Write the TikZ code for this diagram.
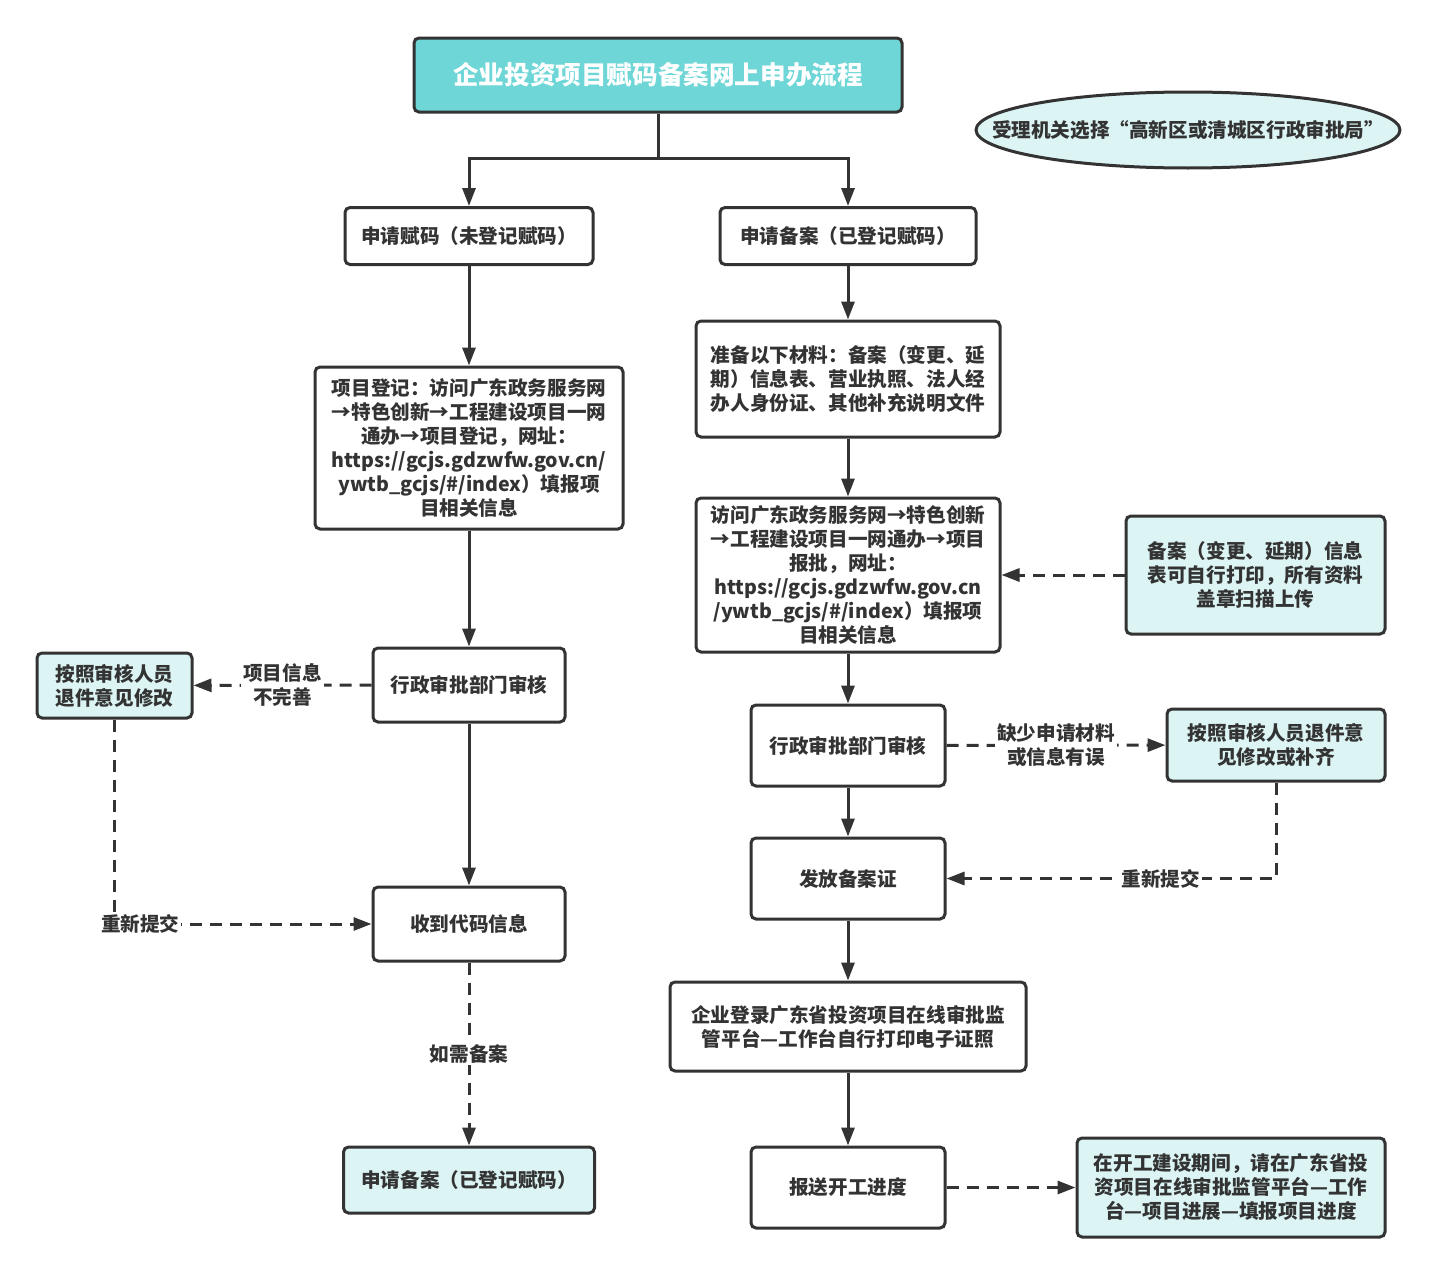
\documentclass[tikz,border=0pt]{standalone}
\usepackage{fontspec}
\setmainfont{Noto Sans CJK SC}
\usetikzlibrary{positioning,arrows.meta,shapes.geometric}
\definecolor{ink}{HTML}{333333}
\definecolor{titlecyan}{HTML}{6ED6D6}
\definecolor{lightcyan}{HTML}{DCF4F4}
\begin{document}
\begin{tikzpicture}[x=0.5pt,y=-0.5pt,
	every node/.style={font=\fontsize{9.8}{12}\selectfont\bfseries,text=ink,align=center},
	block/.style={draw=ink,line width=1.5pt,rounded corners=2.5pt,fill=white,inner sep=0pt},
	note/.style={block,fill=lightcyan},
	flow/.style={draw=ink,line width=1.5pt,-{Triangle[length=9pt,width=6.5pt]}},
	back/.style={flow,dash pattern=on 6pt off 4pt},
	tag/.style={fill=white,inner sep=1pt}]
	\useasboundingbox (0,0) rectangle (1437,1274);
	% title and note
	\node (TITLE) [block,fill=titlecyan,minimum width=244pt,minimum height=37pt,
		text=white,font=\fontsize{12.8}{15}\selectfont\bfseries] at (658,75) {企业投资项目赋码备案网上申办流程};
	\node (ROLE)  [note,ellipse,minimum width=212pt,minimum height=38pt] at (1188,130)
		{\makebox[0pt]{受理机关选择“高新区或清城区行政审批局”}};
	% left column
	\node (A1) [block,minimum width=124pt,minimum height=28.5pt] at (469,236) {申请赋码（未登记赋码）};
	\node (A2) [block,minimum width=154pt,minimum height=81pt] at (469,448)
		{项目登记：访问广东政务服务网\\→特色创新→工程建设项目一网\\通办→项目登记，网址：\\https://gcjs.gdzwfw.gov.cn/\\ywtb\_gcjs/\#/index）填报项\\目相关信息};
	\node (A3) [block,minimum width=96pt,minimum height=37pt] at (469,685) {行政审批部门审核};
	\node (A4) [block,minimum width=96pt,minimum height=37pt] at (469,924) {收到代码信息};
	\node (A5) [note,minimum width=125.5pt,minimum height=33pt] at (469,1180) {申请备案（已登记赋码）};
	\node (AX) [note,minimum width=77.5pt,minimum height=32.5pt] at (114.5,685.5) {按照审核人员\\退件意见修改};
	% right column
	\node (B1) [block,minimum width=128pt,minimum height=28.5pt] at (848,236) {申请备案（已登记赋码）};
	\node (B2) [block,minimum width=152pt,minimum height=58pt] at (848,379)
		{准备以下材料：备案（变更、延\\期）信息表、营业执照、法人经\\办人身份证、其他补充说明文件};
	\node (B3) [block,minimum width=152pt,minimum height=77pt] at (848,575)
		{访问广东政务服务网→特色创新\\→工程建设项目一网通办→项目\\报批，网址：\\https://gcjs.gdzwfw.gov.cn\\/ywtb\_gcjs/\#/index）填报项\\目相关信息};
	\node (BN) [note,minimum width=129.5pt,minimum height=59pt] at (1255.5,575)
		{备案（变更、延期）信息\\表可自行打印，所有资料\\盖章扫描上传};
	\node (B4) [block,minimum width=97pt,minimum height=40.5pt] at (848,745.5) {行政审批部门审核};
	\node (BX) [note,minimum width=109pt,minimum height=36pt] at (1276,745) {按照审核人员退件意\\见修改或补齐};
	\node (B5) [block,minimum width=97pt,minimum height=40.5pt] at (848,878.5) {发放备案证};
	\node (B6) [block,minimum width=178pt,minimum height=44.5pt] at (848,1026.5)
		{企业登录广东省投资项目在线审批监\\管平台—工作台自行打印电子证照};
	\node (B7) [block,minimum width=97pt,minimum height=40.5pt] at (848,1187.5) {报送开工进度};
	\node (BY) [note,minimum width=154pt,minimum height=49.5pt] at (1231,1187.5)
		{在开工建设期间，请在广东省投\\资项目在线审批监管平台—工作\\台—项目进展—填报项目进度};
	\coordinate (FORK) at (658,158);

	% connectors
	\draw[flow] (TITLE.south) -- (FORK) -| (A1.north);
	\draw[flow] (FORK) -| (B1.north);
	\draw[flow] (A1) -- (A2);
	\draw[flow] (A2) -- (A3);
	\draw[flow] (A3) -- (A4);
	\draw[back] (A3) -- node[tag] {项目信息\\不完善} (AX);
	\draw[back] (AX) |- node[tag,pos=0.55] {重新提交} (A4);
	\draw[back] (A4) -- node[tag] {如需备案} (A5);
	\draw[flow] (B1) -- (B2);
	\draw[flow] (B2) -- (B3);
	\draw[flow] (B3) -- (B4);
	\draw[flow] (B4) -- (B5);
	\draw[flow] (B5) -- (B6);
	\draw[flow] (B6) -- (B7);
	\draw[back] (BN) -- (B3);
	\draw[back] (B4) -- node[tag] {缺少申请材料\\或信息有误} (BX);
	\draw[back] (BX) |- node[tag,pos=0.675] {重新提交} (B5);
	\draw[back] (B7) -- (BY);
\end{tikzpicture}
\end{document}
